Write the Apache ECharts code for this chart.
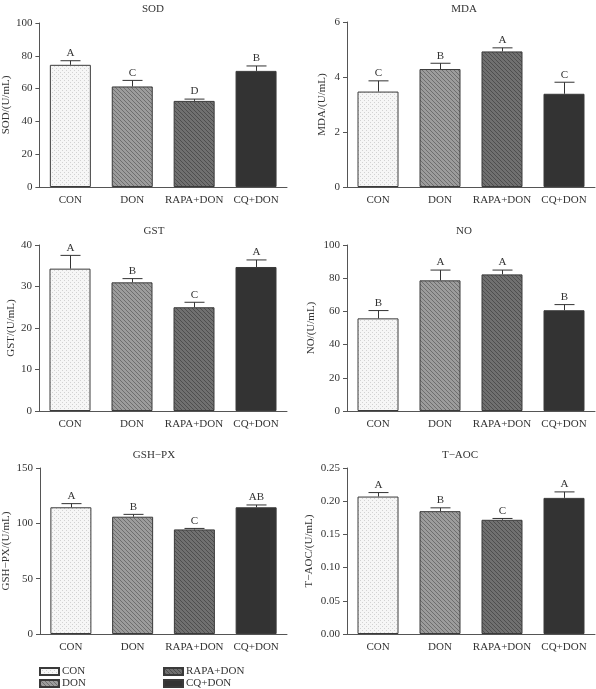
<!DOCTYPE html>
<html>
<head>
<meta charset="utf-8">
<script src="https://cdn.jsdelivr.net/npm/echarts@6/dist/echarts.min.js"></script>
<style>
html,body{margin:0;padding:0;background:#fff;}
#chart{width:596px;height:689px;}
</style>
</head>
<body>
<div id="chart"></div>
<script>
const categories = ['CON', 'DON', 'RAPA+DON', 'CQ+DON'];

const panelTitles = ['SOD', 'MDA', 'GST', 'NO', 'GSH\u2212PX', 'T\u2212AOC'];
const yAxisNames = ['SOD/(U/mL)', 'MDA/(U/mL)', 'GST/(U/mL)', 'NO/(U/mL)', 'GSH\u2212PX/(U/mL)', 'T\u2212AOC/(U/mL)'];

const sodMean = [74.5, 61.3, 52.5, 70.8];
const sodErr = [2.5, 3.7, 1.1, 3.0];
const sodLetters = ['A', 'C', 'D', 'B'];

const mdaMean = [3.47, 4.29, 4.93, 3.39];
const mdaErr = [0.39, 0.21, 0.13, 0.42];
const mdaLetters = ['C', 'B', 'A', 'C'];

const gstMean = [34.3, 31.0, 25.0, 34.7];
const gstErr = [3.2, 0.9, 1.2, 1.7];
const gstLetters = ['A', 'B', 'C', 'A'];

const noMean = [55.8, 78.7, 82.3, 60.7];
const noErr = [4.7, 6.2, 2.6, 3.4];
const noLetters = ['B', 'A', 'A', 'B'];

const gshMean = [114.5, 106.0, 94.5, 114.5];
const gshErr = [3.3, 2.1, 0.9, 2.1];
const gshLetters = ['A', 'B', 'C', 'AB'];

const taocMean = [0.207, 0.185, 0.172, 0.205];
const taocErr = [0.006, 0.005, 0.002, 0.009];
const taocLetters = ['A', 'B', 'C', 'A'];

const yMax = [100, 6, 40, 100, 150, 0.25];
const yInterval = [20, 2, 10, 20, 50, 0.05];

// ---- build ----
const means = [sodMean, mdaMean, gstMean, noMean, gshMean, taocMean];
const errs = [sodErr, mdaErr, gstErr, noErr, gshErr, taocErr];
const letters = [sodLetters, mdaLetters, gstLetters, noLetters, gshLetters, taocLetters];

const FONT = "'Liberation Serif', 'Times New Roman', serif";
const AX = '#555';
const TXT = '#333';

function makeDots(bg, fg) {
  const c = document.createElement('canvas');
  c.width = 4; c.height = 4;
  const g = c.getContext('2d');
  g.fillStyle = bg; g.fillRect(0, 0, 4, 4);
  g.fillStyle = fg; g.fillRect(0, 0, 1, 1); g.fillRect(2, 2, 1, 1);
  return { image: c, repeat: 'repeat' };
}
function makeStripes(bg, fg) {
  const c = document.createElement('canvas');
  c.width = 4; c.height = 4;
  const g = c.getContext('2d');
  g.fillStyle = bg; g.fillRect(0, 0, 4, 4);
  g.fillStyle = fg;
  for (let i = 0; i < 4; i++) g.fillRect(i, i, 1, 1);
  return { image: c, repeat: 'repeat' };
}
const fills = [
  makeDots('#f6f6f6', '#d2d2d2'),
  makeStripes('#9c9c9c', '#6e6e6e'),
  makeStripes('#707070', '#4e4e4e'),
  '#333333'
];

const grids = [
  { left: 39, top: 23, width: 248, height: 164 },
  { left: 347, top: 22, width: 248, height: 165 },
  { left: 39, top: 245, width: 248, height: 166 },
  { left: 347, top: 245, width: 248, height: 166 },
  { left: 39, top: 468, width: 248, height: 166 },
  { left: 347, top: 468, width: 248, height: 166 }
];
const nameGaps = [25, 19, 21, 30, 28, 32];
const titlePos = [
  { x: 148, y: 5 }, { x: 459, y: 5 },
  { x: 149, y: 227 }, { x: 459, y: 227 },
  { x: 149, y: 451 }, { x: 455, y: 451 }
];
const legendPos = [
  { left: 39, top: 666 }, { left: 39, top: 678 },
  { left: 163, top: 666 }, { left: 163, top: 678 }
];

const option = {
  backgroundColor: '#fff',
  animation: false,
  textStyle: { fontFamily: FONT },
  title: panelTitles.map((t, i) => ({
    text: t, left: titlePos[i].x, top: titlePos[i].y - 6, textAlign: 'center',
    textStyle: { fontFamily: FONT, fontSize: 11, fontWeight: 'normal', color: TXT }
  })),
  legend: categories.map((c, k) => ({
    data: [c], left: legendPos[k].left, top: legendPos[k].top, padding: 0,
    itemWidth: 19, itemHeight: 7, icon: 'rect', selectedMode: false,
    textStyle: { fontFamily: FONT, fontSize: 11, color: TXT, padding: [0, 0, 0, -2] }
  })),
  grid: grids,
  xAxis: grids.map((g, i) => ({
    type: 'category', gridIndex: i, data: categories,
    axisLine: { lineStyle: { color: AX, width: 1 } },
    axisTick: { alignWithLabel: true, length: 4, lineStyle: { color: AX } },
    axisLabel: { fontFamily: FONT, fontSize: 11, color: TXT, margin: 8, interval: 0 }
  })),
  yAxis: grids.map((g, i) => ({
    type: 'value', gridIndex: i, min: 0, max: yMax[i], interval: yInterval[i],
    name: yAxisNames[i], nameLocation: 'middle', nameGap: nameGaps[i],
    nameTextStyle: { fontFamily: FONT, fontSize: 11, color: TXT },
    axisLine: { show: true, lineStyle: { color: AX, width: 1 } },
    axisTick: { show: true, length: 4, lineStyle: { color: AX } },
    splitLine: { show: false },
    axisLabel: {
      fontFamily: FONT, fontSize: 11, color: TXT, margin: 7,
      formatter: v => (i === 5 ? v.toFixed(2) : String(v))
    }
  })),
  series: []
};

for (let p = 0; p < 6; p++) {
  categories.forEach((cat, k) => {
    option.series.push({
      type: 'bar', name: cat, xAxisIndex: p, yAxisIndex: p, stack: 'p' + p,
      barWidth: 41,
      data: categories.map((c, j) => (j === k ? means[p][j] : '-')),
      itemStyle: { color: fills[k], borderColor: '#3a3a3a', borderWidth: 1 },
      emphasis: { disabled: true }
    });
  });
  option.series.push({
    type: 'custom', xAxisIndex: p, yAxisIndex: p, z: 5,
    data: categories.map((c, j) => [j, means[p][j], means[p][j] + errs[p][j]]),
    renderItem: function (params, api) {
      const j = api.value(0);
      const base = api.coord([j, api.value(1)]);
      const top = api.coord([j, api.value(2)]);
      const x = Math.round(base[0]) + 0.5;
      return {
        type: 'group',
        children: [
          { type: 'line', shape: { x1: x, y1: base[1], x2: x, y2: top[1] }, style: { stroke: '#333', lineWidth: 1 } },
          { type: 'line', shape: { x1: x - 10, y1: top[1], x2: x + 10, y2: top[1] }, style: { stroke: '#333', lineWidth: 1 } },
          { type: 'text', x: x, y: top[1] - 2,
            style: { text: letters[p][j], x: 0, y: 0, align: 'center', verticalAlign: 'bottom', fill: TXT, font: "11px 'Liberation Serif', 'Times New Roman', serif" } }
        ]
      };
    }
  });
}

const chart = echarts.init(document.getElementById('chart'), null, { renderer: 'canvas' });
chart.setOption(option);
</script>
</body>
</html>
